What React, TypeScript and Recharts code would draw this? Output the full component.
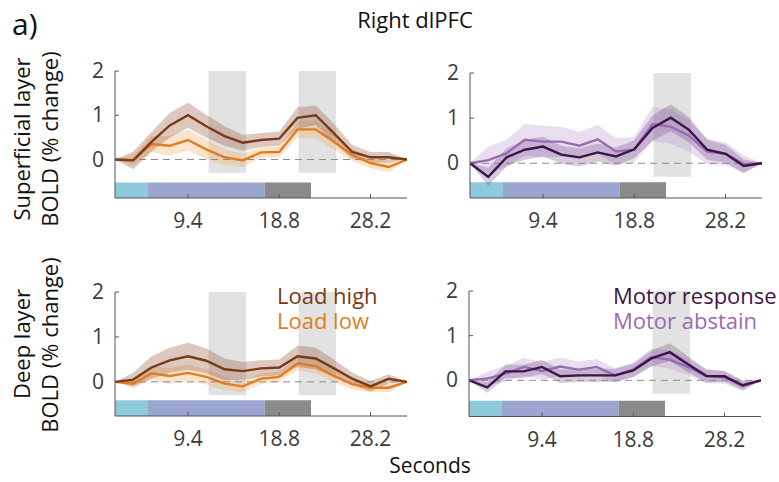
import React from "react";
import {
  ComposedChart,
  Line,
  Area,
  XAxis,
  YAxis,
  ReferenceLine,
  ReferenceArea,
} from "recharts";

// time points (s), one per TR
const TIMES = [1.88, 3.76, 5.64, 7.52, 9.4, 11.28, 13.16, 15.04, 16.92, 18.8, 20.68, 22.56, 24.44, 26.32, 28.2, 30.08, 31.96];
const X_TICKS = [9.4, 18.8, 28.2];
const Y_TICKS = [0, 1, 2];

// superficial layer, load
const supHigh = [0, -0.02, 0.4, 0.77, 1.0, 0.75, 0.53, 0.38, 0.44, 0.47, 0.94, 1.0, 0.59, 0.17, 0.05, 0.05, 0];
const supHighErr = [0, 0.2, 0.22, 0.28, 0.28, 0.26, 0.22, 0.18, 0.16, 0.16, 0.24, 0.22, 0.22, 0.16, 0.12, 0.12, 0];
const supLow = [0, -0.02, 0.35, 0.31, 0.44, 0.23, 0.05, -0.02, 0.16, 0.17, 0.68, 0.68, 0.4, 0.1, -0.08, -0.17, 0];
const supLowErr = [0, 0.12, 0.18, 0.22, 0.24, 0.22, 0.18, 0.15, 0.12, 0.12, 0.18, 0.2, 0.18, 0.14, 0.12, 0.12, 0];

// superficial layer, motor
const supResp = [0, -0.3, 0.13, 0.3, 0.37, 0.19, 0.13, 0.24, 0.15, 0.31, 0.78, 1.01, 0.74, 0.3, 0.21, -0.06, 0];
const supRespErr = [0, 0.2, 0.2, 0.22, 0.22, 0.2, 0.2, 0.2, 0.2, 0.2, 0.28, 0.3, 0.28, 0.22, 0.2, 0.15, 0];
const supAbst = [0, 0.07, 0.22, 0.52, 0.48, 0.48, 0.39, 0.53, 0.26, 0.3, 0.87, 0.81, 0.61, 0.26, 0.21, -0.02, 0];
const supAbstErr = [0, 0.3, 0.3, 0.35, 0.35, 0.33, 0.3, 0.32, 0.3, 0.28, 0.38, 0.38, 0.35, 0.28, 0.25, 0.2, 0];

// deep layer, load
const deepHigh = [0, 0.05, 0.32, 0.48, 0.57, 0.47, 0.28, 0.24, 0.3, 0.32, 0.57, 0.52, 0.3, 0.07, -0.1, 0.07, 0];
const deepHighErr = [0, 0.15, 0.25, 0.28, 0.3, 0.28, 0.24, 0.2, 0.18, 0.18, 0.24, 0.24, 0.2, 0.14, 0.12, 0.1, 0];
const deepLow = [0, -0.04, 0.19, 0.13, 0.2, 0.11, -0.04, -0.1, 0.07, 0.11, 0.41, 0.35, 0.13, -0.05, -0.13, -0.13, 0];
const deepLowErr = [0, 0.1, 0.15, 0.18, 0.18, 0.17, 0.15, 0.13, 0.12, 0.12, 0.15, 0.16, 0.14, 0.12, 0.1, 0.1, 0];

// deep layer, motor
const deepResp = [0, -0.16, 0.2, 0.2, 0.3, 0.09, 0.11, 0.11, 0.11, 0.22, 0.49, 0.63, 0.36, 0.1, 0.09, -0.11, 0];
const deepRespErr = [0, 0.12, 0.15, 0.15, 0.16, 0.15, 0.15, 0.15, 0.15, 0.15, 0.18, 0.2, 0.18, 0.15, 0.12, 0.1, 0];
const deepAbst = [0, 0.04, 0.15, 0.3, 0.21, 0.31, 0.24, 0.3, 0.11, 0.24, 0.52, 0.46, 0.3, 0.09, 0.07, -0.13, 0];
const deepAbstErr = [0, 0.15, 0.18, 0.2, 0.2, 0.2, 0.18, 0.18, 0.16, 0.16, 0.2, 0.2, 0.18, 0.15, 0.14, 0.12, 0];

// task periods (s) drawn under the traces
const PERIODS = [
  { from: 1.88, to: 5.28, color: "#8fc9dc" },
  { from: 5.28, to: 17.29, color: "#9aa5d0" },
  { from: 17.29, to: 22.07, color: "#8a8a8a" },
];

const FONT = "'Open Sans', sans-serif";
const AXIS = "#555";
const TEXT = "#3c3c3c";

function rows(a: number[], ae: number[], b: number[], be: number[]) {
  return TIMES.map((t, i) => ({
    t,
    a: a[i],
    b: b[i],
    aBand: [a[i] - ae[i], a[i] + ae[i]],
    bBand: [b[i] - be[i], b[i] + be[i]],
  }));
}

const XTick = (props: any) => {
  const { x, y, payload } = props;
  return (
    <g>
      <line x1={x} x2={x} y1={y} y2={y - 4} stroke={AXIS} />
      <text x={x} y={y + 30} textAnchor="middle" fontSize={21} fill={TEXT} fontFamily={FONT}>
        {payload.value}
      </text>
    </g>
  );
};

const YTick = (props: any) => {
  const { x, y, payload } = props;
  return (
    <g>
      <line x1={x} x2={x + 4} y1={y} y2={y} stroke={AXIS} />
      <text x={x - 11} y={y + 7} textAnchor="end" fontSize={21} fill={TEXT} fontFamily={FONT}>
        {payload.value}
      </text>
    </g>
  );
};

interface PanelProps {
  left: number;
  top: number;
  width: number;
  height: number;
  yMin: number;
  data: any[];
  colorA: string;
  colorB: string;
  bandA: string;
  bandB: string;
  bandOpA: number;
  bandOpB: number;
  shades: number[][];
}

function Panel(p: PanelProps) {
  const YW = 40;
  const XH = 40;
  const mTop = 14;
  const mRight = 4;
  return (
    <div style={{ position: "absolute", left: p.left - YW, top: p.top - mTop }}>
      <ComposedChart
        width={p.width + YW + mRight}
        height={p.height + mTop + XH}
        data={p.data}
        margin={{ top: mTop, right: mRight, bottom: 0, left: 0 }}
      >
        <XAxis
          dataKey="t"
          type="number"
          domain={[1.88, 31.96]}
          ticks={X_TICKS}
          height={XH}
          tickSize={0}
          tickMargin={0}
          tickLine={false}
          axisLine={{ stroke: AXIS }}
          tick={<XTick />}
          allowDataOverflow
        />
        <YAxis
          type="number"
          domain={[p.yMin, 2]}
          ticks={Y_TICKS}
          width={YW}
          tickSize={0}
          tickMargin={0}
          tickLine={false}
          axisLine={{ stroke: AXIS }}
          tick={<YTick />}
          allowDataOverflow
        />
        {p.shades.map(([a, b], i) => (
          <ReferenceArea key={"s" + i} x1={a} x2={b} y1={-0.3} y2={2} fill="#e2e2e2" fillOpacity={1} stroke="none" ifOverflow="extendDomain" />
        ))}
        {PERIODS.map((d, i) => (
          <ReferenceArea key={"p" + i} x1={d.from} x2={d.to} y1={p.yMin} y2={p.yMin + 0.35} fill={d.color} fillOpacity={1} stroke="none" />
        ))}
        <ReferenceLine y={0} stroke="#8c8c8c" strokeDasharray="7 5" strokeWidth={1} />
        <Area dataKey="bBand" type="linear" stroke="none" fill={p.bandB} fillOpacity={p.bandOpB} isAnimationActive={false} />
        <Area dataKey="aBand" type="linear" stroke="none" fill={p.bandA} fillOpacity={p.bandOpA} isAnimationActive={false} />
        <Line dataKey="b" type="linear" stroke={p.colorB} strokeWidth={2.4} dot={false} isAnimationActive={false} />
        <Line dataKey="a" type="linear" stroke={p.colorA} strokeWidth={2.4} dot={false} isAnimationActive={false} />
      </ComposedChart>
    </div>
  );
}

const BROWN = "#7a3a17";
const ORANGE = "#e07d22";
const DPURPLE = "#3e1448";
const LPURPLE = "#9a6cb3";

const LOAD_SHADES = [[11.52, 15.38], [20.79, 24.65]];
const MOTOR_SHADES = [[20.79, 24.65]];

export default function App() {
  const t = { fontFamily: FONT, fill: "#111" };
  return (
    <div style={{ position: "absolute", left: 0, top: 0, width: 779, height: 482, background: "#fff", overflow: "hidden" }}>
      <Panel left={115} top={71} width={292} height={127} yMin={-0.87}
        data={rows(supHigh, supHighErr, supLow, supLowErr)}
        colorA={BROWN} colorB={ORANGE} bandA="#8a4a2a" bandB="#f0a455" bandOpA={0.3} bandOpB={0.3}
        shades={LOAD_SHADES} />
      <Panel left={469.5} top={73} width={292} height={125} yMin={-0.77}
        data={rows(supResp, supRespErr, supAbst, supAbstErr)}
        colorA={DPURPLE} colorB={LPURPLE} bandA="#5c2c6e" bandB="#b693cc" bandOpA={0.25} bandOpB={0.3}
        shades={MOTOR_SHADES} />
      <Panel left={115} top={291.5} width={292} height={124} yMin={-0.76}
        data={rows(deepHigh, deepHighErr, deepLow, deepLowErr)}
        colorA={BROWN} colorB={ORANGE} bandA="#8a4a2a" bandB="#f0a455" bandOpA={0.3} bandOpB={0.3}
        shades={LOAD_SHADES} />
      <Panel left={469} top={290.5} width={292} height={125.5} yMin={-0.81}
        data={rows(deepResp, deepRespErr, deepAbst, deepAbstErr)}
        colorA={DPURPLE} colorB={LPURPLE} bandA="#5c2c6e" bandB="#b693cc" bandOpA={0.25} bandOpB={0.3}
        shades={MOTOR_SHADES} />
      <svg width={779} height={482} style={{ position: "absolute", left: 0, top: 0, pointerEvents: "none" }}>
        <text x={12} y={35} fontSize={30} {...t}>a)</text>
        <text x={415} y={28} fontSize={22} textAnchor="middle" {...t}>Right dlPFC</text>
        <g transform="translate(30,139) rotate(-90)">
          <text x={0} y={0} fontSize={22} textAnchor="middle" {...t}>Superficial layer</text>
        </g>
        <g transform="translate(58,139) rotate(-90)">
          <text x={0} y={0} fontSize={22} textAnchor="middle" {...t}>BOLD (% change)</text>
        </g>
        <g transform="translate(30,344) rotate(-90)">
          <text x={0} y={0} fontSize={22} textAnchor="middle" {...t}>Deep layer</text>
        </g>
        <g transform="translate(58,345) rotate(-90)">
          <text x={0} y={0} fontSize={22} textAnchor="middle" {...t}>BOLD (% change)</text>
        </g>
        <text x={430} y={473} fontSize={21} textAnchor="middle" {...t}>Seconds</text>
        <text x={277} y={304} fontSize={22} fontFamily={FONT} fill={BROWN}>Load high</text>
        <text x={277} y={329} fontSize={22} fontFamily={FONT} fill={ORANGE}>Load low</text>
        <text x={613} y={304} fontSize={22} fontFamily={FONT} fill={DPURPLE}>Motor response</text>
        <text x={613} y={329} fontSize={22} fontFamily={FONT} fill={LPURPLE}>Motor abstain</text>
      </svg>
    </div>
  );
}
